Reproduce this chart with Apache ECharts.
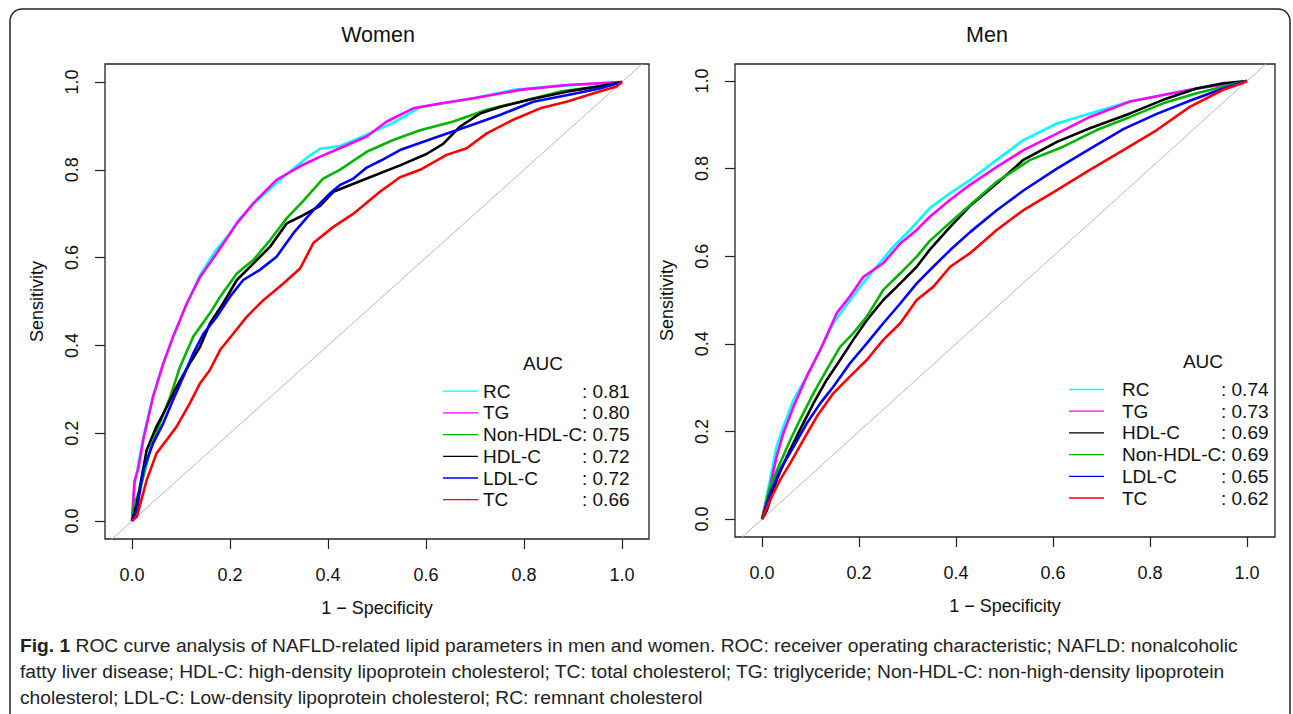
<!DOCTYPE html>
<html>
<head>
<meta charset="utf-8">
<script src="https://cdn.jsdelivr.net/npm/echarts@6/dist/echarts.min.js"></script>
<style>
html,body{margin:0;padding:0;background:#fff;}
#c{width:1293px;height:714px;}
</style>
</head>
<body>
<div id="c"></div>
<script>
// ---------- data ----------
const panelTitles = ['Women', 'Men'];
const xAxisTitle = '1 \u2212 Specificity';
const yAxisTitle = 'Sensitivity';
const tickValues = [0, 0.2, 0.4, 0.6, 0.8, 1.0];

const womenOrder = ['RC', 'TG', 'Non-HDL-C', 'HDL-C', 'LDL-C', 'TC'];
const womenAUC   = ['0.81', '0.80', '0.75', '0.72', '0.72', '0.66'];
const menOrder   = ['RC', 'TG', 'HDL-C', 'Non-HDL-C', 'LDL-C', 'TC'];
const menAUC     = ['0.74', '0.73', '0.69', '0.69', '0.65', '0.62'];

const markerColors = {RC:'#00FFFF', TG:'#FF00FF', 'Non-HDL-C':'#00B400', 'HDL-C':'#000000', 'LDL-C':'#0000FF', TC:'#FF0000'};

// [1 - specificity, sensitivity]
const womenRC = [[0,0],[0.005,0.08],[0.013,0.13],[0.023,0.19],[0.043,0.285],[0.064,0.36],[0.084,0.42],[0.112,0.495],[0.139,0.56],[0.17,0.615],[0.2,0.655],[0.214,0.68],[0.25,0.725],[0.3,0.775],[0.343,0.815],[0.36,0.83],[0.384,0.848],[0.424,0.854],[0.479,0.88],[0.533,0.907],[0.588,0.943],[0.656,0.955],[0.697,0.963],[0.778,0.982],[0.86,0.99],[1,1]];
const womenTG = [[0,0],[0.005,0.09],[0.013,0.12],[0.023,0.185],[0.043,0.283],[0.064,0.359],[0.084,0.42],[0.112,0.496],[0.139,0.556],[0.173,0.61],[0.214,0.678],[0.248,0.724],[0.295,0.777],[0.343,0.808],[0.384,0.83],[0.424,0.849],[0.479,0.876],[0.52,0.91],[0.574,0.94],[0.629,0.951],[0.697,0.963],[0.792,0.982],[0.887,0.993],[1,1]];
const womenNonHDL = [[0,0],[0.005,0.04],[0.016,0.07],[0.037,0.162],[0.057,0.223],[0.078,0.283],[0.098,0.351],[0.125,0.42],[0.159,0.473],[0.18,0.511],[0.214,0.564],[0.248,0.595],[0.282,0.64],[0.316,0.69],[0.35,0.73],[0.39,0.78],[0.424,0.80],[0.479,0.841],[0.533,0.868],[0.588,0.89],[0.656,0.91],[0.724,0.937],[0.792,0.955],[0.873,0.978],[0.955,0.99],[1,1]];
const womenHDL = [[0,0],[0.01,0.04],[0.03,0.162],[0.05,0.215],[0.071,0.26],[0.091,0.306],[0.118,0.359],[0.139,0.397],[0.159,0.45],[0.186,0.496],[0.214,0.549],[0.248,0.587],[0.282,0.625],[0.316,0.678],[0.343,0.693],[0.384,0.718],[0.411,0.75],[0.479,0.78],[0.547,0.81],[0.601,0.836],[0.635,0.859],[0.669,0.898],[0.71,0.928],[0.751,0.943],[0.819,0.962],[0.887,0.978],[0.969,0.993],[1,1]];
const womenLDL = [[0,0],[0.01,0.025],[0.023,0.116],[0.043,0.177],[0.064,0.223],[0.084,0.276],[0.105,0.329],[0.125,0.382],[0.146,0.427],[0.173,0.465],[0.2,0.511],[0.227,0.549],[0.261,0.572],[0.295,0.602],[0.329,0.655],[0.37,0.708],[0.404,0.746],[0.424,0.765],[0.452,0.78],[0.479,0.805],[0.506,0.82],[0.547,0.845],[0.615,0.872],[0.683,0.898],[0.751,0.925],[0.819,0.955],[0.887,0.97],[0.955,0.985],[1,1]];
const womenTC = [[0,0],[0.01,0.01],[0.03,0.093],[0.05,0.154],[0.071,0.185],[0.091,0.215],[0.118,0.268],[0.139,0.314],[0.159,0.344],[0.18,0.39],[0.207,0.427],[0.234,0.465],[0.268,0.503],[0.309,0.541],[0.343,0.575],[0.37,0.633],[0.411,0.67],[0.452,0.70],[0.506,0.75],[0.547,0.783],[0.588,0.80],[0.642,0.834],[0.683,0.849],[0.724,0.883],[0.778,0.914],[0.833,0.94],[0.887,0.955],[0.941,0.974],[0.989,0.99],[1,1]];

const menRC = [[0,0],[0.0165,0.089],[0.03,0.165],[0.044,0.211],[0.065,0.272],[0.092,0.325],[0.12,0.386],[0.147,0.447],[0.175,0.49],[0.202,0.53],[0.236,0.576],[0.271,0.622],[0.305,0.66],[0.346,0.71],[0.388,0.744],[0.429,0.774],[0.484,0.82],[0.539,0.865],[0.608,0.903],[0.676,0.926],[0.759,0.953],[0.827,0.968],[0.896,0.983],[1,1]];
const menTG = [[0,0],[0.0165,0.074],[0.03,0.142],[0.044,0.196],[0.065,0.257],[0.092,0.325],[0.12,0.386],[0.154,0.47],[0.181,0.508],[0.209,0.553],[0.25,0.584],[0.285,0.629],[0.319,0.66],[0.346,0.69],[0.388,0.729],[0.429,0.763],[0.484,0.804],[0.539,0.842],[0.608,0.88],[0.676,0.918],[0.759,0.953],[0.827,0.968],[0.896,0.983],[1,1]];
const menHDL = [[0,0],[0.01,0.02],[0.03,0.089],[0.051,0.142],[0.078,0.203],[0.106,0.264],[0.133,0.317],[0.161,0.363],[0.188,0.409],[0.216,0.454],[0.25,0.5],[0.285,0.538],[0.319,0.576],[0.346,0.615],[0.388,0.667],[0.429,0.715],[0.484,0.766],[0.539,0.82],[0.608,0.861],[0.676,0.892],[0.759,0.926],[0.827,0.957],[0.896,0.983],[0.951,0.995],[1,1]];
const menNonHDL = [[0,0],[0.0165,0.074],[0.037,0.127],[0.058,0.18],[0.078,0.226],[0.106,0.287],[0.133,0.34],[0.161,0.393],[0.188,0.424],[0.216,0.462],[0.25,0.523],[0.285,0.561],[0.319,0.599],[0.346,0.635],[0.388,0.677],[0.429,0.717],[0.484,0.77],[0.553,0.82],[0.621,0.85],[0.69,0.888],[0.759,0.918],[0.827,0.949],[0.896,0.972],[0.965,0.991],[1,1]];
const menLDL = [[0,0],[0.0165,0.059],[0.037,0.112],[0.065,0.165],[0.092,0.218],[0.12,0.264],[0.147,0.302],[0.181,0.355],[0.216,0.401],[0.25,0.447],[0.285,0.492],[0.319,0.538],[0.353,0.576],[0.388,0.614],[0.429,0.655],[0.484,0.705],[0.539,0.75],[0.608,0.8],[0.676,0.845],[0.745,0.89],[0.814,0.925],[0.882,0.955],[0.951,0.983],[1,1]];
const menTC = [[0,0],[0.0165,0.043],[0.037,0.089],[0.058,0.127],[0.085,0.18],[0.113,0.234],[0.147,0.287],[0.181,0.325],[0.216,0.363],[0.25,0.409],[0.285,0.447],[0.319,0.5],[0.353,0.53],[0.388,0.576],[0.429,0.607],[0.484,0.66],[0.539,0.705],[0.608,0.751],[0.676,0.797],[0.745,0.842],[0.814,0.888],[0.882,0.941],[0.951,0.98],[0.99,0.995],[1,1]];

const diagonal = [[-0.2,-0.2],[1.2,1.2]];

const captionLines = [
  ['Fig. 1', ' ROC curve analysis of NAFLD-related lipid parameters in men and women. ROC: receiver operating characteristic; NAFLD: nonalcoholic'],
  ['', 'fatty liver disease; HDL-C: high-density lipoprotein cholesterol; TC: total cholesterol; TG: triglyceride; Non-HDL-C: non-high-density lipoprotein'],
  ['', 'cholesterol; LDL-C: Low-density lipoprotein cholesterol; RC: remnant cholesterol']
];

// ---------- build ----------
const FONT = "'Liberation Sans', Arial, Helvetica, sans-serif";
const CAPFONT = "'Liberation Sans Narrow', 'Liberation Sans', Arial, sans-serif";
const INK = '#111';

const womenData = {RC:womenRC, TG:womenTG, 'Non-HDL-C':womenNonHDL, 'HDL-C':womenHDL, 'LDL-C':womenLDL, TC:womenTC};
const menData = {RC:menRC, TG:menTG, 'Non-HDL-C':menNonHDL, 'HDL-C':menHDL, 'LDL-C':menLDL, TC:menTC};

// caption font size fitted to target width
const cv = document.createElement('canvas').getContext('2d');
cv.font = '100px ' + CAPFONT;
const w100 = cv.measureText(captionLines[0][0] + captionLines[0][1]).width;
const capSize = Math.min(22, 100 * 1216 / w100);

const grids = [
  {left:105, top:64, width:544, height:475, xmin:-0.0551, xmax:1.0551, ymin:-0.041, ymax:1.041},
  {left:735, top:64, width:540, height:473, xmin:-0.0557, xmax:1.0577, ymin:-0.041, ymax:1.0388}
];

function mkX(i){
  const g = grids[i];
  return {
    type:'value', gridIndex:i, min:g.xmin, max:g.xmax, position:'bottom',
    name:xAxisTitle, nameLocation:'middle', nameGap:60,
    nameTextStyle:{fontSize:18, fontFamily:FONT, color:INK},
    axisLine:{show:false, onZero:false},
    axisTick:{show:true, inside:false, length:10, customValues:tickValues, lineStyle:{color:'#222', width:1.2}},
    axisLabel:{show:true, margin:27, customValues:tickValues, fontSize:18, fontFamily:FONT, color:INK, formatter:v=>v.toFixed(1)},
    splitLine:{show:false}
  };
}
function mkY(i){
  const g = grids[i];
  return {
    type:'value', gridIndex:i, min:g.ymin, max:g.ymax, position:'left',
    name:yAxisTitle, nameLocation:'middle', nameGap:59,
    nameTextStyle:{fontSize:18, fontFamily:FONT, color:INK},
    axisLine:{show:false, onZero:false},
    axisTick:{show:true, inside:false, length:10, customValues:tickValues, lineStyle:{color:'#222', width:1.2}},
    axisLabel:{show:true, margin:24, rotate:90, customValues:tickValues, fontSize:18, fontFamily:FONT, color:INK, formatter:v=>v.toFixed(1)},
    splitLine:{show:false}
  };
}

const series = [];
[0,1].forEach(i=>{
  series.push({type:'line', name:'diag'+i, xAxisIndex:i, yAxisIndex:i, data:diagonal, symbol:'none', silent:true, clip:true,
    lineStyle:{color:'#b8b8b8', width:1}, z:1});
});
womenOrder.forEach(k=>{
  series.push({type:'line', name:'Women '+k, xAxisIndex:0, yAxisIndex:0, data:womenData[k], symbol:'none', showSymbol:false, clip:true,
    color:markerColors[k], lineStyle:{color:markerColors[k], width:2.6}, z:2});
});
menOrder.forEach(k=>{
  series.push({type:'line', name:'Men '+k, xAxisIndex:1, yAxisIndex:1, data:menData[k], symbol:'none', showSymbol:false, clip:true,
    color:markerColors[k], lineStyle:{color:markerColors[k], width:2.6}, z:2});
});

const LEGEND_ICON = 'path://M0 0H35V1.3H0Z';
function mkLegend(prefix, order, auc, left, top, gap){
  return {
    data: order.map(k=>({name:prefix+k, icon:LEGEND_ICON})),
    orient:'vertical', left:left, top:top, padding:0,
    itemWidth:35, itemHeight:20, itemGap:2.7, selectedMode:false,
    icon: LEGEND_ICON,
    itemStyle:{borderWidth:0},
    formatter: name => {
      const k = name.slice(prefix.length);
      return (gap ? '{s| }' : '') + '{n|' + k + '}{v|: ' + auc[order.indexOf(k)] + '}';
    },
    textStyle:{fontSize:19, fontFamily:FONT, color:INK,
      rich:{
        s:{width:gap, fontSize:19, lineHeight:20},
        n:{width:99, fontSize:19, fontFamily:FONT, color:INK, lineHeight:20},
        v:{fontSize:19, fontFamily:FONT, color:INK, lineHeight:20}
      }}
  };
}

const graphic = [
  {type:'rect', silent:true, shape:{x:10, y:9, width:1280, height:760, r:[12,12,0,0]}, style:{fill:'none', stroke:'#222', lineWidth:1.5}},
  {type:'text', silent:true, x:543, y:363, style:{text:'AUC', fontSize:19, fontFamily:FONT, fill:INK, align:'center', verticalAlign:'middle', textAlign:'center', textVerticalAlign:'middle'}},
  {type:'text', silent:true, x:1203, y:361, style:{text:'AUC', fontSize:19, fontFamily:FONT, fill:INK, align:'center', verticalAlign:'middle', textAlign:'center', textVerticalAlign:'middle'}}
];
const capY = [645, 671, 697];
captionLines.forEach((ln, i)=>{
  graphic.push({type:'text', silent:true, x:20, y:capY[i], style:{
    text:(ln[0] ? '{b|' + ln[0] + '}' : '') + '{r|' + ln[1] + '}',
    fontSize:capSize, fontFamily:CAPFONT, fill:'#222', align:'left', verticalAlign:'middle', textAlign:'left', textVerticalAlign:'middle',
    rich:{b:{fontWeight:'bold', fontSize:capSize, fontFamily:CAPFONT, fill:'#222'}, r:{fontSize:capSize, fontFamily:CAPFONT, fill:'#222'}}
  }});
});

const chart = echarts.init(document.getElementById('c'), null, {renderer:'svg'});
chart.setOption({
  animation:false,
  backgroundColor:'#fff',
  title: panelTitles.map((t,i)=>({
    text:t, left: i===0 ? 378 : 987, top:24, padding:0, textAlign:'center',
    textStyle:{fontSize:21.5, fontWeight:'normal', fontFamily:FONT, color:INK}
  })),
  grid: grids.map(g=>({left:g.left, top:g.top, width:g.width, height:g.height, show:true, borderColor:'#222', borderWidth:1.3, backgroundColor:'transparent', containLabel:false})),
  xAxis:[mkX(0), mkX(1)],
  yAxis:[mkY(0), mkY(1)],
  legend:[
    mkLegend('Women ', womenOrder, womenAUC, 443, 381.7, 0),
    mkLegend('Men ', menOrder, menAUC, 1069, 380, 13)
  ],
  graphic: graphic,
  series: series
});
</script>
</body>
</html>
